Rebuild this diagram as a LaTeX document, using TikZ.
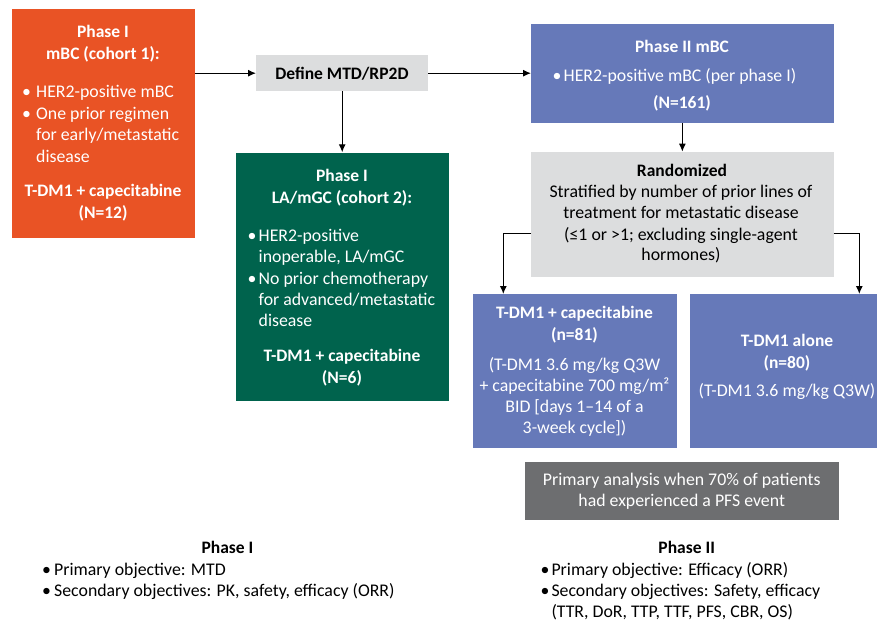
\documentclass[tikz,border=0pt]{standalone}
\usepackage{fontspec}
\setmainfont{Carlito}
\usetikzlibrary{arrows.meta}
\definecolor{cOr}{HTML}{E95325}
\definecolor{cGr}{HTML}{00634D}
\definecolor{cBl}{HTML}{6679B9}
\definecolor{cLg}{HTML}{DCDDDE}
\definecolor{cDg}{HTML}{6D6E70}
\newcommand\T[4][]{\node[txt,#1] (#2) at (#3) {#4};}
\begin{document}
\begin{tikzpicture}[x=1pt,y=-1pt,
  txt/.style={inner sep=0pt, anchor=base, font=\fontsize{17.8}{21.5}\selectfont},
  bf/.style={font=\fontsize{17.5}{21.5}\selectfont\bfseries},
  L/.style={anchor=base west},
  w/.style={text=white},
  box/.style={inner sep=0pt, anchor=north west, draw=none},
  arr/.style={-{Latex[length=8pt,width=7pt]}, line width=1.2pt, black}]
\useasboundingbox[fill=white] (0,0) rectangle (877,624);

% boxes
\node[box, fill=cOr, minimum width=182.6pt, minimum height=229pt] (ob) at (11.7,8.3) {};
\node[box, fill=cLg, minimum width=172pt, minimum height=36pt] (def) at (256,55) {};
\node[box, fill=cGr, minimum width=212.3pt, minimum height=248.4pt] (gb) at (236,152.3) {};
\node[box, fill=cBl, minimum width=302.3pt, minimum height=99.4pt] (pb) at (531,23.3) {};
\node[box, fill=cLg, minimum width=302.3pt, minimum height=125.3pt] (rb) at (531,151.7) {};
\node[box, fill=cBl, minimum width=204.4pt, minimum height=153.3pt] (cb) at (472.3,294) {};
\node[box, fill=cBl, minimum width=196pt, minimum height=153.3pt] (ab) at (689.3,294) {};
\node[box, fill=cDg, minimum width=314.7pt, minimum height=58.3pt] (sb) at (524.3,461.7) {};

% connectors
\coordinate (lc) at (503.3,233.3);
\coordinate (rc) at (859.3,233.3);
\draw[arr] (ob.east |- def.west) -- (def.west);
\draw[arr] (def.east) -- (pb.west |- def.east);
\draw[arr] (def.south) -- (def.south |- gb.north);
\draw[arr] (pb.south) -- (rb.north);
\draw[arr] (rb.west |- lc) -| (lc |- cb.north);
\draw[arr] (rb.east |- rc) -| (rc |- ab.north);

% orange box text
\T[bf,w]{o1}{103,37.7}{Phase I}
\T[bf,w]{o2}{103,59.3}{mBC (cohort 1):}
\T[L,w]{o3b}{22,97.7}{•}
\T[L,w]{o3}{36,97.7}{HER2-positive mBC}
\T[L,w]{o4b}{22,119}{•}
\T[L,w]{o4}{36,119}{One prior regimen}
\T[L,w]{o5}{36,140.5}{for early/metastatic}
\T[L,w]{o6}{36,162}{disease}
\T[bf,w]{o7}{103,196.7}{T-DM1 + capecitabine}
\T[bf,w]{o8}{103,218.3}{(N=12)}

% define
\T[bf]{d1}{342,79}{Define MTD/RP2D}

% green box text
\T[bf,w]{g1}{342,181.7}{Phase I}
\T[bf,w]{g2}{342,203.3}{LA/mGC (cohort 2):}
\T[L,w]{g3b}{247.5,241.7}{•}
\T[L,w]{g3}{258.5,241.7}{HER2-positive}
\T[L,w]{g4}{258.5,262.7}{inoperable, LA/mGC}
\T[L,w]{g5b}{247.5,284}{•}
\T[L,w]{g5}{258.5,284}{No prior chemotherapy}
\T[L,w]{g6}{258.5,305.3}{for advanced/metastatic}
\T[L,w]{g7}{258.5,326.5}{disease}
\T[bf,w]{g8}{342,361.7}{T-DM1 + capecitabine}
\T[bf,w]{g9}{342,383}{(N=6)}

% phase II box
\T[bf,w]{p1}{682,52.7}{Phase II mBC}
\T[L,w]{p2b}{552.5,81}{•}
\T[L,w]{p2}{563.5,81}{HER2-positive mBC (per phase I)}
\T[bf,w]{p3}{682,108.3}{(N=161)}

% randomized
\T[bf]{r1}{682,176.7}{Randomized}
\T{r2}{681,197.7}{Stratified by number of prior lines of}
\T{r3}{681,218.7}{treatment for metastatic disease}
\T{r4}{681,240}{(≤1 or >1; excluding single-agent}
\T{r5}{681,260.7}{hormones)}

% arms
\T[bf,w]{c1}{574.5,318.3}{T-DM1 + capecitabine}
\T[bf,w]{c2}{574.5,340}{(n=81)}
\T[w]{c3}{574.5,370}{(T-DM1 3.6 mg/kg Q3W}
\T[w]{c4}{574.5,391}{+ capecitabine 700 mg/m²}
\T[w]{c5}{574.5,412.7}{BID [days 1–14 of a}
\T[w]{c6}{574.5,433.3}{3-week cycle])}

\T[bf,w]{a1}{787,346.7}{T-DM1 alone}
\T[bf,w]{a2}{787,368.3}{(n=80)}
\T[w]{a3}{787,396.7}{(T-DM1 3.6 mg/kg Q3W)}

\T[w]{s1}{681.7,485}{Primary analysis when 70\% of patients}
\T[w]{s2}{681.7,506.7}{had experienced a PFS event}

% objectives
\T[bf]{b1}{227.5,553.3}{Phase I}
\T[L]{b2b}{42,575.7}{•}
\T[L]{b2}{54,575.7}{Primary objective: MTD}
\T[L]{b3b}{42,596.7}{•}
\T[L]{b3}{54,596.7}{Secondary objectives: PK, safety, efficacy (ORR)}

\T[bf]{e1}{686.7,553.3}{Phase II}
\T[L]{e2b}{540.5,575.7}{•}
\T[L]{e2}{551.3,575.7}{Primary objective: Efficacy (ORR)}
\T[L]{e3b}{540.5,596.7}{•}
\T[L]{e3}{551.3,596.7}{Secondary objectives: Safety, efficacy}
\T[L]{e4}{551.3,617.5}{(TTR, DoR, TTP, TTF, PFS, CBR, OS)}
\end{tikzpicture}
\end{document}
